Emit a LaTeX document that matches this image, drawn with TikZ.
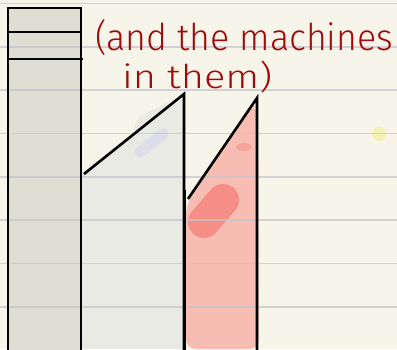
\documentclass[tikz,border=0pt]{standalone}
\usepackage{fontspec}
\setmainfont{Fira Sans}[UprightFont=* Light]
\usepackage{graphicx}
\begin{document}
\begin{tikzpicture}[x=1pt,y=-1pt,
  outline/.style={draw=black,line width=2.6pt},
  rule/.style={draw=ruleC,line width=1.6pt,opacity=0.75},
  hand/.style={text=inkred,inner sep=0pt,anchor=north west}]
\definecolor{paper}{HTML}{F7F5E9}
\definecolor{ruleC}{HTML}{C6C5CE}
\definecolor{barA}{HTML}{DEDED3}
\definecolor{barB}{HTML}{EAEAE5}
\definecolor{blue}{HTML}{DDDEEA}
\definecolor{pinkA}{HTML}{F7BDB3}
\definecolor{pinkB}{HTML}{F58E86}
\definecolor{yel}{HTML}{F4F1B4}
\definecolor{inkred}{HTML}{A00A0C}
\useasboundingbox (0,0) rectangle (397,349);
\fill[paper] (0,0) rectangle (397,349);
% fills
\fill[barA] (8,8) rectangle (81,352);
\fill[barB] (82,349) -- (82,173) -- (184,94) -- (184,349) -- cycle;
\draw[barB,line width=30pt,line cap=round] (150,128) -- (170,118);
\draw[barB,line width=20pt,line cap=round] (145,140) -- (165,125);
\draw[blue,line width=11pt,line cap=round] (140,152) -- (163,134);
\fill[pinkA,rounded corners=10pt] (186,205) -- (250,106) -- (258,106) -- (259,349) -- (186,349) -- cycle;
\draw[pinkB,line width=32pt,line cap=round] (204,222) -- (223,200);
\fill[pinkB,opacity=0.5] (244,147) ellipse (8pt and 4pt);
\fill[yel] (379,134) circle (7pt);
% ruled lines
\foreach \y in {3.5,47,90,133.5,177,220,263.5,307}
  \draw[rule] (0,\y) -- (397,\y);
% outlines
\draw[outline] (8,352) -- (8,8) -- (81,8) -- (81,352);
\draw[outline] (8,32) -- (81,32);
\draw[outline] (8,59) -- (83,59);
\draw[outline] (84,174) -- (184,94) -- (184,352);
\draw[outline] (185,352) -- (185,190);
\draw[outline] (188,199) -- (257,98) -- (257,352);
% text
\node[hand] (l1) at (95,19) {\resizebox*{298pt}{36pt}{(and the machines}};
\node[hand] (l2) at (122,61) {\resizebox*{150pt}{32pt}{in them)}};
\end{tikzpicture}
\end{document}
